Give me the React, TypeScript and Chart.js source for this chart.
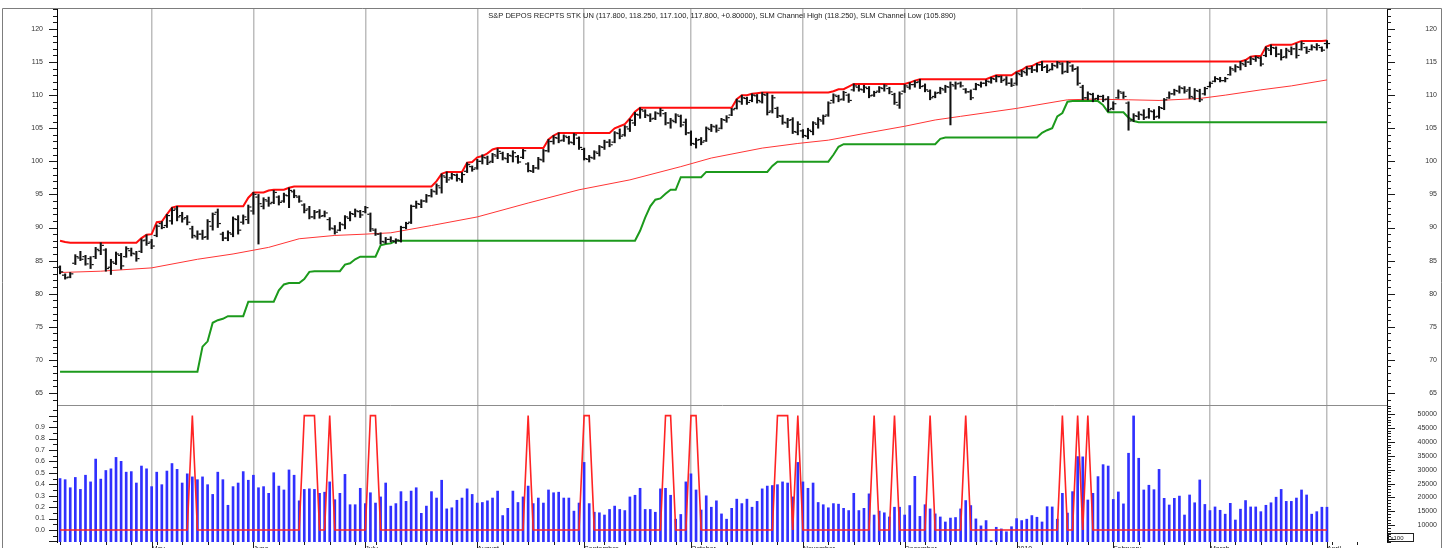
import { useEffect, useRef } from 'react';
import { Chart, registerables } from 'chart.js';

Chart.register(...registerables);

const FONT = '"Liberation Sans", Arial, Helvetica, sans-serif';
const TITLE = 'S&P DEPOS RECPTS STK UN (117.800, 118.250, 117.100, 117.800, +0.80000), SLM Channel High (118.250), SLM Channel Low (105.890)';

// Month starts (bar index) and their labels
const monthIdx = [18, 38, 60, 82, 103, 124, 146, 166, 188, 207, 226, 249];
const monthLabels = ['May', 'June', 'July', 'August', 'September', 'October', 'November', 'December', '2010', 'February', 'March', 'April'];
// Week starts (bar index)
const weekIdx = [0, 4, 9, 14, 19, 24, 29, 34, 38, 43, 48, 53, 58, 62, 67, 72, 77, 82, 87, 92, 97, 102, 107, 111, 116, 121, 126, 131, 136, 141, 146, 151, 156, 161, 165, 170, 175, 180, 184, 188, 193, 198, 202, 207, 212, 217, 221, 226, 231, 236, 241, 246, 250, 255];

const priceTicks = [65, 70, 75, 80, 85, 90, 95, 100, 105, 110, 115, 120];
const sigTicks = [0, 0.1, 0.2, 0.3, 0.4, 0.5, 0.6, 0.7, 0.8, 0.9];
const volTicks = [10000, 15000, 20000, 25000, 30000, 35000, 40000, 45000, 50000];

const highs = [
  84.2, 83.0, 83.2, 85.9, 86.4, 85.8, 85.6, 87.0, 87.7, 86.8,
  85.2, 86.3, 86.1, 87.1, 86.9, 86.4, 88.3, 88.9, 88.2, 90.4,
  90.9, 92.0, 93.0, 93.2, 92.3, 91.8, 90.2, 89.5, 89.6, 91.2,
  92.2, 92.8, 89.3, 89.5, 91.6, 91.8, 91.9, 93.4, 95.3, 95.0,
  94.5, 94.6, 95.6, 94.8, 95.2, 96.0, 95.7, 94.8, 93.6, 93.2,
  92.6, 92.7, 92.5, 91.5, 90.3, 90.8, 91.8, 92.4, 92.8, 92.6,
  93.2, 92.2, 89.8, 89.2, 88.5, 88.6, 88.3, 90.2, 90.8, 93.4,
  94.0, 94.2, 95.0, 95.8, 96.6, 98.1, 98.4, 98.2, 98.1, 98.3,
  99.8, 99.3, 100.3, 101.0, 100.8, 101.2, 101.9, 101.4, 101.2, 101.6,
  100.9, 101.8, 99.8, 99.4, 100.6, 101.8, 103.3, 103.9, 104.3, 104.0,
  103.8, 104.2, 103.7, 102.0, 100.9, 101.6, 102.4, 103.2, 103.3, 104.5,
  104.9, 105.4, 106.4, 107.4, 108.1, 107.8, 107.2, 107.5, 108.0, 107.4,
  106.5, 107.2, 107.0, 106.4, 104.6, 103.5, 103.6, 105.2, 105.6, 105.5,
  106.5, 106.9, 108.0, 109.4, 110.0, 109.7, 110.2, 110.1, 110.4, 110.3,
  110.0, 108.2, 107.0, 106.5, 106.6, 106.0, 104.8, 105.0, 106.0, 106.6,
  107.0, 109.0, 110.2, 110.0, 110.6, 110.2, 111.7, 111.5, 111.5, 111.3,
  110.6, 111.3, 111.6, 111.2, 110.3, 110.5, 111.6, 111.9, 112.2, 112.4,
  111.7, 110.8, 110.5, 111.2, 111.5, 112.0, 112.0, 112.0, 111.0, 110.8,
  111.8, 112.0, 112.3, 112.7, 113.0, 112.9, 112.8, 112.5, 113.5, 113.8,
  114.3, 114.4, 114.8, 115.1, 114.6, 114.8, 115.1, 114.9, 115.1, 114.6,
  114.3, 111.5, 110.5, 110.3, 110.0, 110.0, 109.8, 109.0, 110.8, 110.5,
  109.0, 107.2, 107.5, 107.8, 108.0, 107.8, 108.3, 109.5, 110.5, 110.9,
  111.4, 111.3, 111.2, 111.0, 110.9, 111.2, 112.0, 112.8, 112.7, 112.7,
  114.3, 114.6, 115.1, 115.3, 115.8, 115.9, 115.8, 117.3, 117.6, 117.3,
  116.9, 117.1, 117.3, 117.8, 118.1, 117.3, 117.6, 117.8, 117.3, 118.25,
];

const lows = [
  83.0, 82.2, 82.4, 84.4, 85.0, 84.3, 83.8, 85.3, 85.9, 83.4,
  82.9, 84.4, 83.7, 85.5, 85.7, 84.9, 86.2, 87.3, 86.8, 88.6,
  89.8, 90.0, 90.5, 91.0, 90.8, 90.4, 88.4, 88.2, 88.2, 88.2,
  89.6, 90.0, 88.0, 88.0, 88.6, 89.0, 90.5, 90.6, 92.0, 87.5,
  92.8, 93.2, 93.6, 93.4, 93.8, 93.0, 94.5, 93.8, 92.2, 91.3,
  91.3, 91.4, 91.6, 89.6, 89.0, 89.5, 89.8, 91.0, 91.6, 91.5,
  92.2, 89.4, 88.8, 87.5, 87.6, 87.8, 87.6, 87.8, 89.8, 90.6,
  92.9, 93.0, 93.8, 94.6, 95.0, 95.2, 96.8, 97.3, 97.0, 96.8,
  98.3, 98.5, 98.8, 99.6, 99.5, 99.8, 100.4, 100.2, 99.8, 99.9,
  99.7, 100.4, 98.4, 98.3, 98.8, 99.9, 101.4, 102.6, 102.8, 103.0,
  102.6, 102.5, 101.8, 100.2, 99.9, 100.3, 100.8, 101.8, 102.2, 102.8,
  103.4, 103.8, 104.5, 105.4, 106.5, 106.6, 106.0, 106.3, 106.8, 105.5,
  105.0, 105.8, 105.2, 104.0, 102.4, 102.0, 102.5, 103.0, 104.5, 104.4,
  104.9, 105.9, 106.9, 107.9, 108.6, 108.6, 109.0, 108.8, 108.8, 107.0,
  107.3, 106.6, 105.6, 105.1, 104.2, 104.0, 103.6, 103.4, 104.0, 105.0,
  105.6, 106.8, 108.8, 109.0, 109.2, 108.9, 110.6, 110.6, 110.4, 109.6,
  109.8, 110.4, 110.6, 110.2, 108.6, 108.0, 110.4, 110.9, 111.2, 111.0,
  110.5, 109.3, 109.6, 110.2, 110.4, 105.5, 110.9, 111.2, 110.3, 109.3,
  110.8, 111.2, 111.4, 111.8, 112.0, 111.9, 111.5, 111.3, 111.5, 112.8,
  113.0, 113.4, 113.5, 113.7, 113.4, 113.8, 114.1, 113.2, 113.4, 113.6,
  111.5, 109.3, 109.3, 109.0, 109.3, 109.0, 107.5, 107.8, 109.5, 109.5,
  104.7, 106.0, 106.3, 106.3, 106.5, 106.3, 106.5, 107.8, 109.5, 110.0,
  110.3, 110.3, 109.5, 109.3, 109.0, 110.0, 111.2, 112.0, 112.0, 112.0,
  113.0, 113.5, 113.8, 114.3, 114.6, 115.1, 114.4, 115.8, 116.1, 115.8,
  115.3, 115.6, 116.1, 115.6, 116.8, 116.3, 116.8, 116.8, 116.6, 117.1,
];

const opens = [
  84.0, 82.8, 82.5, 84.6, 85.4, 85.6, 85.3, 85.6, 86.5, 86.6,
  84.0, 84.6, 85.8, 85.6, 86.5, 86.0, 86.4, 88.1, 87.8, 88.8,
  90.6, 90.3, 91.0, 92.8, 91.8, 91.5, 89.8, 88.6, 89.0, 88.6,
  90.2, 92.3, 89.0, 88.4, 89.0, 91.2, 90.8, 91.2, 92.5, 94.6,
  93.2, 94.0, 93.8, 94.6, 94.0, 94.8, 95.4, 94.6, 93.4, 92.8,
  91.6, 92.4, 91.8, 91.2, 89.8, 89.6, 90.4, 91.4, 92.0, 92.4,
  92.4, 92.0, 89.6, 89.0, 87.8, 88.2, 87.9, 88.0, 90.0, 90.8,
  93.2, 93.5, 94.0, 94.8, 95.4, 96.0, 97.6, 97.5, 97.9, 97.2,
  98.5, 99.2, 99.0, 100.0, 100.5, 100.0, 100.8, 101.2, 100.4, 100.8,
  100.7, 100.6, 99.6, 98.5, 99.0, 100.2, 101.6, 103.0, 103.5, 103.2,
  103.6, 102.8, 103.5, 101.8, 100.3, 100.5, 101.2, 102.1, 102.9, 102.9,
  104.2, 104.0, 104.9, 105.8, 107.0, 107.6, 106.9, 106.5, 107.2, 107.2,
  105.8, 106.0, 106.8, 105.9, 104.3, 102.6, 103.3, 103.1, 104.8, 105.2,
  105.0, 106.2, 107.0, 108.0, 109.0, 109.5, 109.2, 109.9, 109.0, 110.0,
  107.6, 108.0, 106.8, 105.8, 106.3, 104.4, 104.6, 103.8, 104.5, 105.6,
  106.1, 107.0, 109.2, 109.8, 109.4, 110.0, 110.8, 111.2, 110.8, 111.0,
  110.0, 110.6, 111.0, 111.0, 110.1, 108.5, 110.6, 111.2, 111.6, 112.0,
  111.4, 110.6, 109.8, 110.4, 110.8, 111.2, 111.4, 111.8, 110.9, 110.5,
  110.9, 111.5, 111.8, 112.0, 112.4, 112.8, 112.4, 111.8, 111.8, 113.1,
  113.4, 114.0, 113.8, 114.6, 114.3, 113.9, 114.4, 114.7, 113.6, 114.4,
  114.0, 111.2, 109.6, 110.1, 109.5, 109.8, 109.4, 108.0, 109.6, 110.3,
  108.8, 106.3, 106.8, 107.0, 106.7, 107.5, 106.8, 108.0, 109.6, 110.2,
  110.6, 111.0, 110.8, 109.6, 110.6, 110.2, 111.3, 112.1, 112.4, 112.2,
  113.1, 113.8, 114.2, 114.6, 115.0, 115.4, 115.6, 116.0, 116.8, 117.1,
  116.2, 115.8, 116.6, 117.0, 116.9, 117.2, 116.9, 117.2, 117.2, 117.8,
];

const closes = [
  83.3, 82.4, 83.0, 85.6, 85.2, 84.5, 84.4, 86.7, 87.3, 83.8,
  84.8, 86.0, 84.2, 86.8, 86.1, 85.3, 88.0, 87.6, 87.2, 90.2,
  90.0, 91.8, 92.6, 91.6, 91.3, 90.8, 88.8, 89.0, 88.5, 90.9,
  92.0, 90.6, 88.4, 89.2, 91.3, 89.6, 91.6, 93.1, 95.0, 93.6,
  94.2, 93.6, 95.3, 93.8, 94.9, 95.6, 94.8, 94.0, 92.6, 91.6,
  92.3, 91.7, 92.2, 89.9, 89.3, 90.5, 91.6, 92.1, 92.5, 91.9,
  93.0, 89.8, 89.0, 87.9, 88.2, 88.0, 88.1, 90.0, 90.6, 93.2,
  93.6, 94.0, 94.8, 95.5, 96.3, 97.8, 97.2, 98.0, 97.4, 98.0,
  99.5, 98.8, 100.0, 100.6, 99.8, 101.0, 101.5, 100.5, 100.9, 101.3,
  99.9, 101.6, 98.6, 99.0, 100.3, 101.6, 103.0, 103.6, 103.1, 103.8,
  102.9, 104.0, 102.1, 100.4, 100.6, 101.4, 102.2, 102.9, 102.5, 104.3,
  103.8, 105.2, 106.2, 107.1, 107.8, 107.0, 106.4, 107.3, 107.7, 105.8,
  106.2, 107.0, 105.5, 104.3, 102.7, 103.2, 102.9, 105.0, 105.3, 104.7,
  106.3, 106.6, 107.8, 109.1, 109.6, 108.9, 110.0, 109.2, 110.1, 107.4,
  109.6, 106.9, 105.9, 106.2, 104.5, 105.6, 103.9, 104.7, 105.8, 106.3,
  106.8, 108.8, 110.0, 109.3, 110.4, 109.2, 111.4, 110.9, 111.2, 109.9,
  110.4, 111.1, 111.4, 110.5, 108.9, 110.2, 111.4, 111.6, 111.9, 111.3,
  110.8, 109.6, 110.3, 111.0, 111.3, 111.6, 111.7, 111.4, 110.5, 109.6,
  111.6, 111.8, 112.1, 112.5, 112.8, 112.2, 111.8, 111.5, 113.3, 113.6,
  114.0, 113.8, 114.6, 114.2, 113.7, 114.5, 114.9, 113.5, 114.9, 113.9,
  111.8, 109.6, 110.2, 109.4, 109.8, 109.3, 107.8, 108.7, 110.5, 109.8,
  106.1, 106.9, 107.1, 106.6, 107.6, 106.7, 108.1, 109.3, 110.2, 110.7,
  111.1, 110.6, 109.8, 110.7, 109.3, 111.0, 111.8, 112.5, 112.2, 112.5,
  114.0, 114.3, 114.8, 115.0, 115.5, 115.7, 114.7, 117.0, 117.2, 116.2,
  115.7, 116.8, 117.0, 116.0, 117.8, 116.6, 117.3, 117.5, 116.8, 117.8,
];

const chanHigh = [
  88.0, 87.8, 87.7, 87.7, 87.7, 87.7, 87.7, 87.7, 87.7, 87.7,
  87.7, 87.7, 87.7, 87.7, 87.7, 87.7, 88.4, 88.9, 89.0, 90.8,
  90.9, 92.0, 93.0, 93.2, 93.2, 93.2, 93.2, 93.2, 93.2, 93.2,
  93.2, 93.2, 93.2, 93.2, 93.2, 93.2, 93.2, 94.5, 95.3, 95.3,
  95.3, 95.6, 95.7, 95.7, 95.7, 96.0, 96.2, 96.2, 96.2, 96.2,
  96.2, 96.2, 96.2, 96.2, 96.2, 96.2, 96.2, 96.2, 96.2, 96.2,
  96.2, 96.2, 96.2, 96.2, 96.2, 96.2, 96.2, 96.2, 96.2, 96.2,
  96.2, 96.2, 96.2, 96.2, 97.0, 98.1, 98.4, 98.4, 98.4, 98.4,
  99.8, 99.9, 100.6, 100.8, 101.2, 101.8, 102.0, 102.0, 102.0, 102.0,
  102.0, 102.0, 102.0, 102.0, 102.0, 102.0, 103.3, 103.9, 104.3, 104.3,
  104.3, 104.3, 104.3, 104.3, 104.3, 104.3, 104.3, 104.3, 104.3, 105.0,
  105.3, 105.6, 106.5, 107.5, 108.1, 108.1, 108.1, 108.1, 108.1, 108.1,
  108.1, 108.1, 108.1, 108.1, 108.1, 108.1, 108.1, 108.1, 108.1, 108.1,
  108.1, 108.1, 108.1, 109.4, 110.0, 110.0, 110.2, 110.3, 110.4, 110.4,
  110.4, 110.4, 110.4, 110.4, 110.4, 110.4, 110.4, 110.4, 110.4, 110.4,
  110.4, 110.4, 110.6, 110.9, 110.9, 111.3, 111.7, 111.7, 111.7, 111.7,
  111.7, 111.7, 111.7, 111.7, 111.7, 111.7, 111.7, 111.9, 112.2, 112.4,
  112.4, 112.4, 112.4, 112.4, 112.4, 112.4, 112.4, 112.4, 112.4, 112.4,
  112.4, 112.4, 112.4, 112.7, 113.0, 113.0, 113.0, 113.0, 113.5, 113.8,
  114.3, 114.4, 114.8, 115.1, 115.1, 115.1, 115.1, 115.1, 115.1, 115.1,
  115.1, 115.1, 115.1, 115.1, 115.1, 115.1, 115.1, 115.1, 115.1, 115.1,
  115.1, 115.1, 115.1, 115.1, 115.1, 115.1, 115.1, 115.1, 115.1, 115.1,
  115.1, 115.1, 115.1, 115.1, 115.1, 115.1, 115.1, 115.1, 115.1, 115.1,
  115.1, 115.1, 115.1, 115.3, 115.8, 115.9, 115.9, 117.3, 117.6, 117.6,
  117.6, 117.6, 117.6, 117.9, 118.2, 118.2, 118.2, 118.2, 118.2, 118.25,
];

const chanLow = [
  68.2, 68.2, 68.2, 68.2, 68.2, 68.2, 68.2, 68.2, 68.2, 68.2,
  68.2, 68.2, 68.2, 68.2, 68.2, 68.2, 68.2, 68.2, 68.2, 68.2,
  68.2, 68.2, 68.2, 68.2, 68.2, 68.2, 68.2, 68.2, 72.0, 72.8,
  75.6, 76.0, 76.2, 76.6, 76.6, 76.6, 76.6, 78.8, 78.8, 78.8,
  78.8, 78.8, 78.8, 80.5, 81.4, 81.6, 81.6, 81.6, 82.2, 83.3,
  83.4, 83.4, 83.4, 83.4, 83.4, 83.4, 84.4, 84.6, 85.2, 85.6,
  85.6, 85.6, 85.6, 87.3, 87.5, 87.6, 88.0, 88.0, 88.0, 88.0,
  88.0, 88.0, 88.0, 88.0, 88.0, 88.0, 88.0, 88.0, 88.0, 88.0,
  88.0, 88.0, 88.0, 88.0, 88.0, 88.0, 88.0, 88.0, 88.0, 88.0,
  88.0, 88.0, 88.0, 88.0, 88.0, 88.0, 88.0, 88.0, 88.0, 88.0,
  88.0, 88.0, 88.0, 88.0, 88.0, 88.0, 88.0, 88.0, 88.0, 88.0,
  88.0, 88.0, 88.0, 88.0, 89.5, 91.5, 93.2, 94.2, 94.4, 95.1,
  95.7, 95.7, 97.6, 97.6, 97.6, 97.6, 97.6, 98.4, 98.4, 98.4,
  98.4, 98.4, 98.4, 98.4, 98.4, 98.4, 98.4, 98.4, 98.4, 98.4,
  99.3, 99.95, 99.95, 99.95, 99.95, 99.95, 99.95, 99.95, 99.95, 99.95,
  99.95, 99.95, 101.0, 102.2, 102.6, 102.6, 102.6, 102.6, 102.6, 102.6,
  102.6, 102.6, 102.6, 102.6, 102.6, 102.6, 102.6, 102.6, 102.6, 102.6,
  102.6, 102.6, 102.6, 103.4, 103.6, 103.6, 103.6, 103.6, 103.6, 103.6,
  103.6, 103.6, 103.6, 103.6, 103.6, 103.6, 103.6, 103.6, 103.6, 103.6,
  103.6, 103.6, 103.6, 104.3, 104.7, 105.0, 106.8, 107.3, 109.0, 109.1,
  109.1, 109.1, 109.1, 109.1, 109.1, 108.5, 107.4, 107.4, 107.4, 107.4,
  106.6, 106.1, 105.9, 105.89, 105.89, 105.89, 105.89, 105.89, 105.89, 105.89,
  105.89, 105.89, 105.89, 105.89, 105.89, 105.89, 105.89, 105.89, 105.89, 105.89,
  105.89, 105.89, 105.89, 105.89, 105.89, 105.89, 105.89, 105.89, 105.89, 105.89,
  105.89, 105.89, 105.89, 105.89, 105.89, 105.89, 105.89, 105.89, 105.89, 105.89,
];

// Slow moving average, read at these bar indices
const maIdx = [0, 8, 18, 27, 34, 41, 47, 54, 60, 65, 73, 82, 92, 102, 112, 122, 128, 138, 145, 151, 158, 166, 172, 177, 188, 198, 203, 210, 216, 224, 229, 236, 242, 249];
const maVal = [83.2, 83.4, 83.9, 85.2, 86.0, 87.0, 88.3, 88.8, 89.0, 89.2, 90.3, 91.6, 93.7, 95.7, 97.2, 99.2, 100.5, 102.0, 102.7, 103.2, 104.2, 105.3, 106.25, 106.8, 108.0, 109.3, 109.4, 109.3, 109.2, 109.5, 110.0, 110.8, 111.4, 112.3];

const volumes = [
  26800, 26400, 23500, 27200, 22900, 28000, 25600, 33800, 26600, 29700,
  30300, 34400, 33000, 29100, 29300, 25200, 31300, 30300, 23900, 29100,
  24600, 29500, 32200, 30100, 25200, 28500, 27400, 26400, 27400, 24600,
  21100, 29100, 26400, 17200, 23900, 25200, 29300, 26200, 28000, 23500,
  23900, 21500, 28900, 24100, 22700, 29900, 28000, 18800, 22900, 23100,
  22900, 21500, 21900, 25600, 19200, 21500, 28300, 17400, 17400, 23300,
  17800, 21700, 18000, 20200, 25200, 16900, 17800, 22100, 18600, 22300,
  23500, 14300, 16900, 22100, 19800, 26200, 15900, 16300, 19000, 19800,
  23100, 21100, 18000, 18200, 18800, 19800, 22300, 13500, 16100, 22300,
  18200, 20200, 24100, 17800, 19800, 18000, 22700, 21700, 21900, 19800,
  19800, 15100, 18000, 32600, 17800, 14700, 14500, 13700, 15700, 16900,
  15700, 15300, 20200, 20800, 23300, 15700, 15700, 14700, 23100, 23300,
  20800, 12200, 13900, 25600, 28500, 22700, 15500, 20600, 16500, 18800,
  14100, 12200, 16100, 19400, 17800, 19400, 16500, 18600, 23100, 24100,
  24300, 24600, 25600, 25200, 20200, 32600, 25600, 23300, 25200, 18200,
  17400, 16300, 17800, 17600, 16100, 15300, 21500, 15300, 16100, 21300,
  13700, 15100, 14500, 13000, 16500, 16500, 13700, 17100, 27600, 13200,
  17400, 15900, 14100, 13000, 11200, 12600, 12800, 15900, 18900, 17100,
  12300, 9800, 11700, 4500, 9300, 8700, 7700, 9500, 12400, 11700,
  12200, 13500, 12900, 11200, 16700, 16600, 12200, 21500, 14400, 22100,
  34700, 34600, 19100, 21500, 27500, 31800, 31300, 19300, 22000, 17700,
  35900, 49300, 34100, 22700, 24400, 22800, 30100, 19700, 17300, 19700,
  20500, 13700, 20900, 18100, 26300, 17500, 15300, 16600, 15400, 14000,
  17900, 11900, 15800, 18900, 16600, 16600, 14900, 17200, 18100, 20100,
  22900, 18600, 18600, 19800, 22700, 20900, 14000, 14900, 16500, 16500,
];

const signal = [
  0, 0, 0, 0, 0, 0, 0, 0, 0, 0,
  0, 0, 0, 0, 0, 0, 0, 0, 0, 0,
  0, 0, 0, 0, 0, 0, 1, 0, 0, 0,
  0, 0, 0, 0, 0, 0, 0, 0, 0, 0,
  0, 0, 0, 0, 0, 0, 0, 0, 1, 1,
  1, 0, 0, 1, 0, 0, 0, 0, 0, 0,
  0, 1, 1, 0, 0, 0, 0, 0, 0, 0,
  0, 0, 0, 0, 0, 0, 0, 0, 0, 0,
  0, 0, 0, 0, 0, 0, 0, 0, 0, 0,
  0, 0, 1, 0, 0, 0, 0, 0, 0, 0,
  0, 0, 0, 1, 1, 0, 0, 0, 0, 0,
  0, 0, 0, 0, 0, 0, 0, 0, 0, 1,
  1, 0, 0, 0, 1, 1, 0, 0, 0, 0,
  0, 0, 0, 0, 0, 0, 0, 0, 0, 0,
  0, 1, 1, 1, 0, 1, 0, 0, 0, 0,
  0, 0, 0, 0, 0, 0, 0, 0, 0, 0,
  1, 0, 0, 0, 1, 0, 0, 0, 0, 0,
  0, 1, 0, 0, 0, 0, 0, 0, 1, 0,
  0, 0, 0, 0, 0, 0, 0, 0, 0, 0,
  0, 0, 0, 0, 0, 0, 0, 1, 0, 0,
  1, 0, 1, 0, 0, 0, 0, 0, 0, 0,
  0, 0, 0, 0, 0, 0, 0, 0, 0, 0,
  0, 0, 0, 0, 0, 0, 0, 0, 0, 0,
  0, 0, 0, 0, 0, 0, 0, 0, 0, 0,
  0, 0, 0, 0, 0, 0, 0, 0, 0, 0,
];

const X_MIN = -0.6;
const X_MAX = 260.8;
const PRICE_MIN = 63.18;
const PRICE_MAX = 123.17;
const SIG_MIN = -0.105;
const SIG_MAX = 1.093;
const VOL_MIN = 4000;
const VOL_MAX = 53234;

function tickMarks(ctx: CanvasRenderingContext2D, scale: any, left: boolean, from: number, to: number, step: number, majorEvery: number) {
  const x0 = left ? scale.right : scale.left;
  const dir = left ? -1 : 1;
  const n = Math.round((to - from) / step);
  ctx.beginPath();
  for (let k = 0; k <= n; k++) {
    const v = from + k * step;
    const py = scale.getPixelForValue(v);
    if (py < scale.top - 0.5 || py > scale.bottom + 0.5) continue;
    const y = Math.round(py) + 0.5;
    const len = k % majorEvery === 0 ? 8 : 4;
    ctx.moveTo(x0, y);
    ctx.lineTo(x0 + dir * len, y);
  }
  ctx.stroke();
}

const decor = {
  id: 'decor',
  afterDraw(chart: any) {
    const { ctx, chartArea: ca, scales } = chart;
    ctx.save();
    // outer frame
    ctx.strokeStyle = '#7d7d7d';
    ctx.lineWidth = 1;
    ctx.beginPath();
    ctx.moveTo(2.5, chart.height);
    ctx.lineTo(2.5, ca.top + 0.5);
    ctx.lineTo(chart.width - 3.5, ca.top + 0.5);
    ctx.lineTo(chart.width - 3.5, chart.height);
    ctx.stroke();
    // axis tick marks
    ctx.strokeStyle = '#1a1a1a';
    tickMarks(ctx, scales.y, true, 60, 125, 1, 5);
    tickMarks(ctx, scales.yR, false, 60, 125, 1, 5);
    tickMarks(ctx, scales.ySig, true, -0.1, 1.1, 0.05, 2);
    tickMarks(ctx, scales.yVol, false, 0, 55000, 1000, 5);
    // time axis ticks
    ctx.beginPath();
    weekIdx.forEach((i) => {
      const x = Math.round(scales.x.getPixelForValue(i)) + 0.5;
      ctx.moveTo(x, ca.bottom);
      ctx.lineTo(x, ca.bottom + 3);
    });
    monthIdx.forEach((i) => {
      const x = Math.round(scales.x.getPixelForValue(i)) + 0.5;
      ctx.moveTo(x, ca.bottom);
      ctx.lineTo(x, ca.bottom + 8);
    });
    ctx.stroke();
    // x100 box
    const bx = scales.yVol.left + 1.5;
    const by = scales.yVol.bottom - 8.5;
    ctx.strokeStyle = '#222';
    ctx.strokeRect(bx, by, 25, 8);
    ctx.fillStyle = '#222';
    ctx.font = `6px ${FONT}`;
    ctx.textAlign = 'left';
    ctx.textBaseline = 'middle';
    ctx.fillText('x100', bx + 2, by + 4.5);
    // title
    ctx.fillStyle = '#222';
    ctx.font = `7.5px ${FONT}`;
    ctx.textAlign = 'center';
    ctx.textBaseline = 'middle';
    ctx.fillText(TITLE, (ca.left + ca.right) / 2, ca.top + 7.5);
    ctx.restore();
  },
};

const noPadV = (w: number) => (s: any) => {
  s.width = w;
  s.paddingTop = 0;
  s.paddingBottom = 0;
};

export default function App() {
  const ref = useRef<HTMLCanvasElement>(null);

  useEffect(() => {
    const canvas = ref.current;
    if (!canvas) return;
    Chart.defaults.font.family = FONT;
    const idx = highs.map((_, i) => i);
    const tickFont = { family: FONT, size: 7 };

    const chart = new Chart(canvas, {
      type: 'line',
      data: {
        datasets: [
          {
            type: 'scatter',
            label: 'Open',
            data: idx.map((i) => ({ x: i - 0.4, y: opens[i] })),
            xAxisID: 'x',
            yAxisID: 'y',
            pointStyle: 'line',
            pointRadius: 1.1,
            pointBorderWidth: 1.2,
            pointBorderColor: '#111',
            pointBackgroundColor: '#111',
            order: 2,
          },
          {
            type: 'scatter',
            label: 'Close',
            data: idx.map((i) => ({ x: i + 0.4, y: closes[i] })),
            xAxisID: 'x',
            yAxisID: 'y',
            pointStyle: 'line',
            pointRadius: 1.1,
            pointBorderWidth: 1.2,
            pointBorderColor: '#111',
            pointBackgroundColor: '#111',
            order: 2,
          },
          {
            type: 'bar',
            label: 'High-Low',
            data: idx.map((i) => ({ x: i, y: [lows[i], highs[i]] })),
            xAxisID: 'x',
            yAxisID: 'y',
            backgroundColor: '#111',
            barThickness: 1.4,
            grouped: false,
            order: 3,
          },
          {
            type: 'line',
            label: 'SLM Channel High',
            data: idx.map((i) => ({ x: i, y: chanHigh[i] })),
            xAxisID: 'x',
            yAxisID: 'y',
            borderColor: '#ff0d0d',
            borderWidth: 2,
            pointRadius: 0,
            order: 6,
          },
          {
            type: 'line',
            label: 'SLM Channel Low',
            data: idx.map((i) => ({ x: i, y: chanLow[i] })),
            xAxisID: 'x',
            yAxisID: 'y',
            borderColor: '#1c9a1c',
            borderWidth: 2,
            pointRadius: 0,
            order: 7,
          },
          {
            type: 'line',
            label: 'Average',
            data: maIdx.map((x, k) => ({ x, y: maVal[k] })),
            xAxisID: 'x',
            yAxisID: 'y',
            borderColor: '#ff3535',
            borderWidth: 1,
            pointRadius: 0,
            order: 8,
          },
          {
            type: 'line',
            label: 'Signal',
            data: idx.map((i) => ({ x: i, y: signal[i] })),
            xAxisID: 'x',
            yAxisID: 'ySig',
            borderColor: '#ff2424',
            borderWidth: 1.6,
            pointRadius: 0,
            order: 9,
          },
          {
            type: 'bar',
            label: 'Volume',
            data: idx.map((i) => ({ x: i, y: volumes[i] })),
            xAxisID: 'x',
            yAxisID: 'yVol',
            backgroundColor: '#3030ff',
            barThickness: 2,
            grouped: false,
            order: 10,
          },
        ] as any,
      },
      options: {
        responsive: false,
        animation: false,
        devicePixelRatio: 1,
        events: [],
        layout: { padding: { top: 8, left: 0, right: 8, bottom: 0 } },
        plugins: {
          legend: { display: false },
          tooltip: { enabled: false },
          title: { display: false },
        },
        scales: {
          x: {
            type: 'linear',
            position: 'bottom',
            min: X_MIN,
            max: X_MAX,
            offset: false,
            afterBuildTicks: (s: any) => {
              s.ticks = monthIdx.map((v) => ({ value: v }));
            },
            afterFit: (s: any) => {
              s.height = 14;
              s.paddingLeft = 0;
              s.paddingRight = 0;
            },
            grid: { offset: false, color: '#bdbdbd', lineWidth: 1.5, drawTicks: false },
            border: { display: false },
            ticks: {
              autoSkip: false,
              maxRotation: 0,
              minRotation: 0,
              align: 'start',
              padding: 3,
              color: '#222',
              font: tickFont,
              callback: (_v: any, i: number) => monthLabels[i],
            },
          },
          y: {
            type: 'linear',
            position: 'left',
            stack: 'L',
            stackWeight: 397,
            weight: 2,
            min: PRICE_MIN,
            max: PRICE_MAX,
            beginAtZero: false,
            afterBuildTicks: (s: any) => {
              s.ticks = [PRICE_MIN, ...priceTicks].map((v) => ({ value: v }));
            },
            afterFit: noPadV(57),
            grid: {
              drawTicks: false,
              lineWidth: 1,
              color: (c: any) => (c.tick && c.tick.value === PRICE_MIN ? '#8c8c8c' : 'rgba(0,0,0,0)'),
            },
            border: { display: true, color: '#000', width: 1 },
            ticks: {
              autoSkip: false,
              padding: 14,
              color: '#333',
              font: tickFont,
              callback: (v: any) => (priceTicks.includes(v) ? String(v) : ''),
            },
          },
          ySig: {
            type: 'linear',
            position: 'left',
            stack: 'L',
            stackWeight: 137,
            weight: 1,
            min: SIG_MIN,
            max: SIG_MAX,
            beginAtZero: false,
            afterBuildTicks: (s: any) => {
              s.ticks = sigTicks.map((v) => ({ value: v }));
            },
            afterFit: noPadV(57),
            grid: { drawTicks: false, drawOnChartArea: false },
            border: { display: true, color: '#000', width: 1 },
            ticks: {
              autoSkip: false,
              padding: 12,
              color: '#333',
              font: tickFont,
              callback: (v: any) => Number(v).toFixed(1),
            },
          },
          yR: {
            type: 'linear',
            position: 'right',
            stack: 'R',
            stackWeight: 397,
            weight: 1,
            min: PRICE_MIN,
            max: PRICE_MAX,
            beginAtZero: false,
            afterBuildTicks: (s: any) => {
              s.ticks = priceTicks.map((v) => ({ value: v }));
            },
            afterFit: noPadV(50),
            grid: { drawTicks: false, drawOnChartArea: false },
            border: { display: true, color: '#000', width: 1 },
            ticks: {
              autoSkip: false,
              crossAlign: 'far',
              padding: 0,
              color: '#333',
              font: tickFont,
              callback: (v: any) => String(v),
            },
          },
          yVol: {
            type: 'linear',
            position: 'right',
            stack: 'R',
            stackWeight: 137,
            weight: 2,
            min: VOL_MIN,
            max: VOL_MAX,
            beginAtZero: false,
            afterBuildTicks: (s: any) => {
              s.ticks = volTicks.map((v) => ({ value: v }));
            },
            afterFit: noPadV(50),
            grid: { drawTicks: false, drawOnChartArea: false },
            border: { display: true, color: '#000', width: 1 },
            ticks: {
              autoSkip: false,
              crossAlign: 'far',
              padding: 0,
              color: '#333',
              font: tickFont,
              callback: (v: any) => String(v),
            },
          },
        },
      } as any,
      plugins: [decor],
    });

    return () => chart.destroy();
  }, []);

  return (
    <div
      style={{
        position: 'fixed',
        left: 0,
        top: 0,
        width: 1445,
        height: 548,
        overflow: 'hidden',
        background: '#fff',
      }}
    >
      <canvas ref={ref} width={1445} height={556} style={{ display: 'block', width: 1445, height: 556 }} />
    </div>
  );
}
